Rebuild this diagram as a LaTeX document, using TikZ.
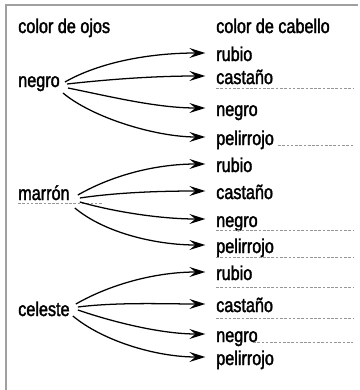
\documentclass[tikz,border=0pt]{standalone}
\usepackage{fontspec}
\setmainfont{Liberation Sans}[FakeStretch=0.81,FakeBold=1.8]
\usetikzlibrary{arrows.meta}
\definecolor{framegray}{RGB}{160,160,160}
\definecolor{dashgray}{RGB}{150,150,150}
\tikzset{
  lbl/.style={anchor=base west, inner sep=0pt, font=\fontsize{15}{18}\selectfont},
  rlbl/.style={lbl, text height=12pt, text depth=0pt},
  fan/.style={line width=0.95pt, -{Stealth[length=12pt,width=7.5pt,inset=4.5pt]}, shorten >=8pt},
  guide/.style={draw=dashgray, dash pattern=on 2pt off 1.2pt, line width=0.5pt},
  frameline/.style={draw=framegray, line width=1.5pt}
}
\begin{document}
\begin{tikzpicture}[x=0.75pt,y=-0.75pt]
\useasboundingbox (0,0) rectangle (360,390);
\draw[frameline] (6,390) -- (6,4.5) -- (358,4.5);

% headers
\node[lbl] (h1) at (18,33) {color de ojos};
\node[lbl] (h2) at (216,33) {color de cabello};

% left labels
\node[lbl] (nL) at (18,87) {negro};
\node[lbl] (mL) at (18,200) {marrón};
\node[lbl] (cL) at (18,316) {celeste};

% right labels group 1
\node[rlbl] (r1) at (216,61) {rubio};
\node[rlbl] (c1) at (216,84) {castaño};
\node[rlbl] (n1) at (216,116) {negro};
\node[rlbl] (p1) at (216,145) {pelirrojo};
% group 2
\node[rlbl] (r2) at (216,172) {rubio};
\node[rlbl] (c2) at (216,199) {castaño};
\node[rlbl] (n2) at (216,227) {negro};
\node[rlbl] (p2) at (216,253) {pelirrojo};
% group 3
\node[rlbl] (r3) at (216,280) {rubio};
\node[rlbl] (c3) at (216,312) {castaño};
\node[rlbl] (n3) at (216,342) {negro};
\node[rlbl] (p3) at (216,365) {pelirrojo};

% dashed guide lines
\draw[guide] (216,88) -- (353,88);
\draw[guide] (278,145) -- (353,145);
\draw[guide] (18,203) -- (103,203);
\draw[guide] (216,230) -- (353,230);
\draw[guide] (216,257) -- (353,257);
\draw[guide] (216,287) -- (353,287);
\draw[guide] (216,318) -- (353,318);
\draw[guide] (253,342) -- (353,342);

% fan 1
\draw[fan] ([xshift=3.75pt,yshift=3.75pt]nL.base east) .. controls +(35,-20) and +(-66,0) .. (r1.west);
\draw[fan] ([xshift=5.25pt,yshift=2.25pt]nL.base east) .. controls +(45,-5) and +(-60,0) .. (c1.west);
\draw[fan] ([xshift=6pt,yshift=-0.75pt]nL.base east) .. controls +(40,8) and +(-60,0) .. (n1.west);
\draw[fan] ([xshift=2.25pt,yshift=-4.5pt]nL.base east) .. controls +(30,25) and +(-60,0) .. (p1.west);

% fan 2
\draw[fan] ([xshift=6pt,yshift=3.75pt]mL.base east) .. controls +(35,-20) and +(-60,0) .. (r2.west);
\draw[fan] ([xshift=7.5pt,yshift=1.5pt]mL.base east) .. controls +(40,-6) and +(-50,0) .. (c2.west);
\draw[fan] ([xshift=7.5pt,yshift=-1.5pt]mL.base east) .. controls +(35,10) and +(-55,0) .. (n2.west);
\draw[fan] ([xshift=3.75pt,yshift=-6pt]mL.base east) .. controls +(30,25) and +(-60,0) .. (p2.west);

% fan 3
\draw[fan] ([xshift=4.5pt,yshift=9pt]cL.base east) .. controls +(35,-20) and +(-60,0) .. (r3.west);
\draw[fan] ([xshift=6pt,yshift=6.75pt]cL.base east) .. controls +(40,-5) and +(-50,0) .. (c3.west);
\draw[fan] ([xshift=6pt,yshift=4.5pt]cL.base east) .. controls +(35,12) and +(-55,0) .. (n3.west);
\draw[fan] ([xshift=2.25pt,yshift=0pt]cL.base east) .. controls +(30,25) and +(-60,0) .. (p3.west);
\end{tikzpicture}
\end{document}
